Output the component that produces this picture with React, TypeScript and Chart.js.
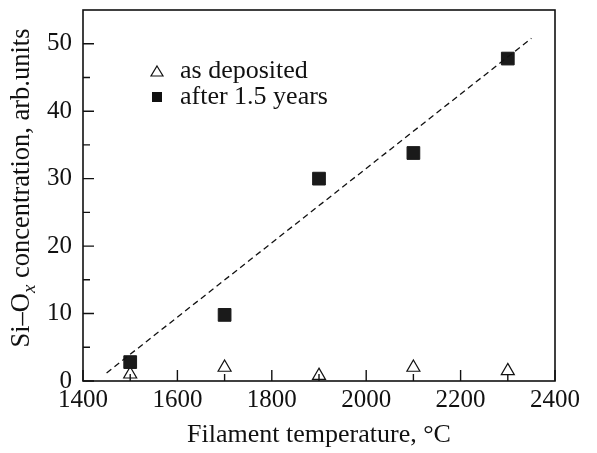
import React, { useEffect, useRef } from "react";
import { Chart, registerables } from "chart.js";

Chart.register(...registerables);

const temperatures = [1500, 1700, 1900, 2100, 2300];
const asDeposited = [1.0, 2.0, 0.8, 2.0, 1.5];
const after15Years = [2.8, 9.8, 30.0, 33.8, 47.8];
const fitX = [1450, 2350];
const fitY = [1.2, 50.8];
const xTicks = [1400, 1600, 1800, 2000, 2200, 2400];
const xMinor = [1500, 1700, 1900, 2100, 2300];
const yTicks = [0, 10, 20, 30, 40, 50];
const yMinor = [5, 15, 25, 35, 45];
const seriesLabels = ["as deposited", "after 1.5 years"];

const FONT = '"Liberation Serif", "Times New Roman", serif';

const framePlugin = {
  id: "frame",
  afterDraw(chart: any) {
    const { ctx, chartArea: a, scales } = chart;
    const xs = scales.x;
    const ys = scales.y;
    ctx.save();
    ctx.strokeStyle = "#111";
    ctx.lineWidth = 1.6;
    ctx.strokeRect(a.left, a.top, a.right - a.left, a.bottom - a.top);
    ctx.lineWidth = 1.4;
    ctx.beginPath();
    xTicks.forEach((v) => {
      const px = xs.getPixelForValue(v);
      ctx.moveTo(px, a.bottom);
      ctx.lineTo(px, a.bottom - 11);
    });
    xMinor.forEach((v) => {
      const px = xs.getPixelForValue(v);
      ctx.moveTo(px, a.bottom);
      ctx.lineTo(px, a.bottom - 7);
    });
    yTicks.forEach((v) => {
      const py = ys.getPixelForValue(v);
      ctx.moveTo(a.left, py);
      ctx.lineTo(a.left + 11, py);
    });
    yMinor.forEach((v) => {
      const py = ys.getPixelForValue(v);
      ctx.moveTo(a.left, py);
      ctx.lineTo(a.left + 7, py);
    });
    ctx.stroke();

    // legend
    ctx.fillStyle = "#111";
    ctx.font = `26px ${FONT}`;
    ctx.textBaseline = "middle";
    ctx.textAlign = "left";
    const lx = 157;
    const ly1 = 71;
    const ly2 = 97;
    ctx.lineWidth = 1.2;
    ctx.beginPath();
    ctx.moveTo(lx, ly1 - 5);
    ctx.lineTo(lx + 6, ly1 + 5);
    ctx.lineTo(lx - 6, ly1 + 5);
    ctx.closePath();
    ctx.stroke();
    ctx.fillText(seriesLabels[0], 180, ly1);
    ctx.fillRect(lx - 5, ly2 - 5, 10, 10);
    ctx.fillText(seriesLabels[1], 180, ly2);

    // y title with subscript
    const parts = [
      { t: "Si–O", f: `26.5px ${FONT}`, dy: 0 },
      { t: "x", f: `italic 19px ${FONT}`, dy: 6 },
      { t: " concentration, arb.units", f: `26.5px ${FONT}`, dy: 0 },
    ];
    let total = 0;
    parts.forEach((p) => {
      ctx.font = p.f;
      total += ctx.measureText(p.t).width;
    });
    ctx.translate(29, 188);
    ctx.rotate(-Math.PI / 2);
    ctx.textBaseline = "alphabetic";
    let cx = -total / 2;
    parts.forEach((p) => {
      ctx.font = p.f;
      ctx.fillText(p.t, cx, p.dy);
      cx += ctx.measureText(p.t).width;
    });
    ctx.restore();
  },
};

export default function App() {
  const ref = useRef<HTMLCanvasElement>(null);
  useEffect(() => {
    document.body.style.margin = "0";
    const chart = new Chart(ref.current as HTMLCanvasElement, {
      type: "scatter",
      data: {
        datasets: [
          {
            type: "line",
            label: "fit",
            data: fitX.map((x, i) => ({ x, y: fitY[i] })),
            borderColor: "#111",
            borderWidth: 1.3,
            borderDash: [6, 4],
            pointRadius: 0,
            fill: false,
          } as any,
          {
            label: seriesLabels[1],
            data: temperatures.map((x, i) => ({ x, y: after15Years[i] })),
            pointStyle: "rect",
            pointRadius: 9,
            backgroundColor: "#1a1a1a",
            borderColor: "#1a1a1a",
            borderWidth: 1,
          },
          {
            label: seriesLabels[0],
            data: temperatures.map((x, i) => ({ x, y: asDeposited[i] })),
            pointStyle: "triangle",
            pointRadius: 7.5,
            backgroundColor: "rgba(255,255,255,0)",
            borderColor: "#111",
            borderWidth: 1.2,
          },
        ],
      },
      options: {
        animation: false,
        responsive: false,
        layout: { padding: { top: 9, right: 42, left: 0, bottom: 0 } },
        plugins: { legend: { display: false }, tooltip: { enabled: false } },
        scales: {
          x: {
            type: "linear",
            min: 1400,
            max: 2400,
            grid: { display: false, drawTicks: false },
            border: { display: false },
            afterBuildTicks: (s: any) => {
              s.ticks = xTicks.map((v) => ({ value: v }));
            },
            afterFit: (s: any) => {
              s.height = 72;
              s.paddingLeft = 0;
              s.paddingRight = 0;
            },
            ticks: {
              color: "#111",
              font: { family: FONT, size: 25 },
              padding: 4,
              maxRotation: 0,
              callback: (v: any) => String(v),
            },
            title: {
              display: true,
              text: "Filament temperature, °C",
              color: "#111",
              font: { family: FONT, size: 26 },
              padding: { top: 0, bottom: 2 },
            },
          },
          y: {
            type: "linear",
            min: 0,
            max: 55,
            grid: { display: false, drawTicks: false },
            border: { display: false },
            afterBuildTicks: (s: any) => {
              s.ticks = yTicks.map((v) => ({ value: v }));
            },
            afterFit: (s: any) => {
              s.width = 83;
              s.paddingTop = 0;
              s.paddingBottom = 0;
            },
            ticks: {
              color: "#111",
              font: { family: FONT, size: 25 },
              padding: 11,
              callback: (v: any) => String(v),
            },
          },
        },
      },
      plugins: [framePlugin],
    } as any);
    let alive = true;
    const fonts: any = (document as any).fonts;
    if (fonts && fonts.load) {
      Promise.all([
        fonts.load('25px "Liberation Serif"'),
        fonts.load('italic 18px "Liberation Serif"'),
      ])
        .then(() => {
          if (alive) chart.update();
        })
        .catch(() => {});
    }
    return () => {
      alive = false;
      chart.destroy();
    };
  }, []);
  return (
    <div style={{ width: 597, height: 453 }}>
      <canvas ref={ref} width={597} height={453} />
    </div>
  );
}
